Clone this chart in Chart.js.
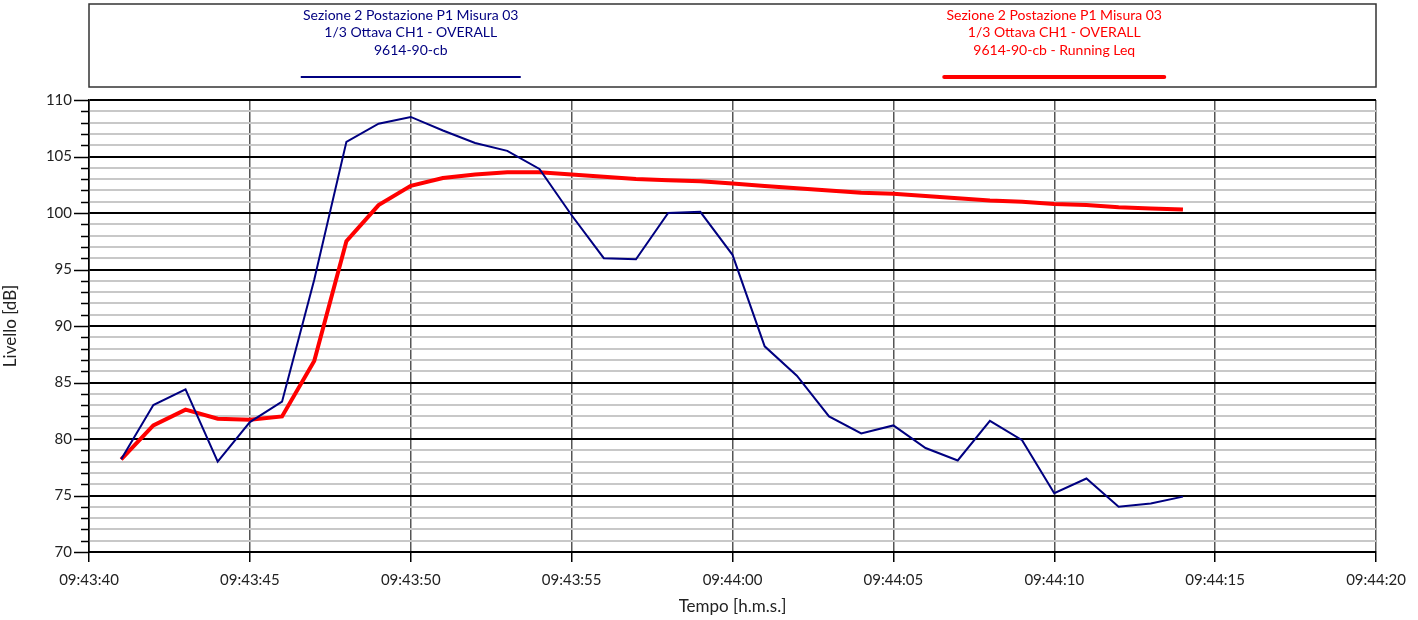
<!DOCTYPE html>
<html>
<head>
<meta charset="utf-8">
<script src="https://cdn.jsdelivr.net/npm/chart.js@4/dist/chart.umd.min.js"></script>
<style>
  html, body { margin: 0; padding: 0; background: #fff; }
  canvas { display: block; }
</style>
</head>
<body>
<canvas id="chart" width="1418" height="620"></canvas>
<script>
// sample times, one per second
const START = "09:43:40";
const times = [
  "09:43:41", "09:43:42", "09:43:43", "09:43:44", "09:43:45", "09:43:46",
  "09:43:47", "09:43:48", "09:43:49", "09:43:50", "09:43:51", "09:43:52",
  "09:43:53", "09:43:54", "09:43:55", "09:43:56", "09:43:57", "09:43:58",
  "09:43:59", "09:44:00", "09:44:01", "09:44:02", "09:44:03", "09:44:04",
  "09:44:05", "09:44:06", "09:44:07", "09:44:08", "09:44:09", "09:44:10",
  "09:44:11", "09:44:12", "09:44:13", "09:44:14",
];

// 1/3 Ottava CH1 - OVERALL [dB]
const overall = [
  78.2, 83.0, 84.4, 78.0, 81.5, 83.3, 94.1, 106.3, 107.9, 108.5, 107.3, 106.2,
  105.5, 103.9, 99.8, 96.0, 95.9, 100.0, 100.1, 96.3, 88.2, 85.6, 82.0, 80.5,
  81.2, 79.2, 78.1, 81.6, 79.9, 75.2, 76.5, 74.0, 74.3, 74.9,
];

// Running Leq [dB]
const runningLeq = [
  78.2, 81.2, 82.6, 81.8, 81.7, 82.0, 86.9, 97.5, 100.7, 102.4, 103.1, 103.4,
  103.6, 103.6, 103.4, 103.2, 103.0, 102.9, 102.8, 102.6, 102.4, 102.2, 102.0, 101.8,
  101.7, 101.5, 101.3, 101.1, 101.0, 100.8, 100.7, 100.5, 100.4, 100.3,
];

const legendTitles = [
  ["Sezione 2 Postazione P1 Misura 03", "1/3 Ottava CH1 - OVERALL", "9614-90-cb"],
  ["Sezione 2 Postazione P1 Misura 03", "1/3 Ottava CH1 - OVERALL", "9614-90-cb - Running Leq"],
];

const FONT = "Lato, 'Open Sans', sans-serif";

function toSec(t) {
  const [h, m, s] = t.split(":").map(Number);
  return h * 3600 + m * 60 + s;
}

function fromSec(sec) {
  const pad = (n) => String(n).padStart(2, "0");
  return pad(Math.floor(sec / 3600)) + ":" + pad(Math.floor(sec / 60) % 60) + ":" + pad(sec % 60);
}

const t0 = toSec(START);
const toPoints = (vals) => vals.map((v, i) => ({ x: toSec(times[i]) - t0, y: v }));

// legend box above the plot
const legendBoxPlugin = {
  id: "legendBox",
  afterDraw: (chart) => {
    const ctx = chart.ctx;
    const area = chart.chartArea;
    const w = area.right - area.left;
    ctx.save();
    ctx.strokeStyle = "#333";
    ctx.lineWidth = 1.5;
    ctx.strokeRect(area.left, 4, w, 83);

    ctx.textAlign = "center";
    ctx.textBaseline = "middle";
    ctx.font = "14px " + FONT;
    chart.data.datasets.forEach((ds, i) => {
      const cx = area.left + w * (i === 0 ? 0.25 : 0.75);
      ctx.fillStyle = ds.borderColor;
      legendTitles[i].forEach((line, j) => {
        ctx.fillText(line, cx, 15 + j * 17.5);
      });
      ctx.strokeStyle = ds.borderColor;
      ctx.lineWidth = ds.borderWidth;
      ctx.lineCap = i === 0 ? "butt" : "round";
      ctx.beginPath();
      ctx.moveTo(cx - 110, 77);
      ctx.lineTo(cx + 110, 77);
      ctx.stroke();
    });
    ctx.restore();
  },
};

// y tick marks: long on the 5 dB lines, short on the others
const yTicksPlugin = {
  id: "yTickMarks",
  afterDraw: (chart) => {
    const ctx = chart.ctx;
    const y = chart.scales.y;
    const left = chart.chartArea.left;
    ctx.save();
    ctx.strokeStyle = "#000";
    ctx.lineWidth = 1.5;
    y.ticks.forEach((t) => {
      const py = Math.round(y.getPixelForValue(t.value)) + 0.5;
      const len = t.value % 5 === 0 ? 15 : 8;
      ctx.beginPath();
      ctx.moveTo(left - len, py);
      ctx.lineTo(left, py);
      ctx.stroke();
    });
    ctx.restore();
  },
};

new Chart(document.getElementById("chart"), {
  type: "line",
  data: {
    datasets: [
      {
        label: legendTitles[0].join(" "),
        data: toPoints(overall),
        borderColor: "#000080",
        borderWidth: 2,
        pointRadius: 0,
        tension: 0,
      },
      {
        label: legendTitles[1].join(" "),
        data: toPoints(runningLeq),
        borderColor: "#ff0000",
        borderWidth: 4,
        pointRadius: 0,
        tension: 0,
      },
    ],
  },
  plugins: [legendBoxPlugin, yTicksPlugin],
  options: {
    responsive: false,
    animation: false,
    devicePixelRatio: 1,
    layout: { padding: { top: 100, right: 42, left: 0, bottom: 0 } },
    plugins: {
      legend: { display: false },
      tooltip: { enabled: false },
    },
    scales: {
      x: {
        type: "linear",
        min: 0,
        max: 40,
        afterFit: (scale) => { scale.height = 68; },
        ticks: {
          stepSize: 5,
          padding: 9,
          color: "#222",
          font: { family: FONT, size: 15 },
          maxRotation: 0,
          callback: (v) => fromSec(t0 + v),
        },
        grid: {
          color: (c) => (c.tick && c.tick.value === 0 ? "#000" : "#555"),
          lineWidth: 1.5,
          tickLength: 10,
          tickColor: "#000",
        },
        border: { display: true, color: "#000", width: 2 },
        title: {
          display: true,
          text: "Tempo [h.m.s.]",
          color: "#222",
          font: { family: FONT, size: 17 },
          padding: { top: 0, bottom: 3 },
        },
      },
      y: {
        min: 70,
        max: 110,
        afterFit: (scale) => { scale.width = 89; },
        ticks: {
          stepSize: 1,
          autoSkip: false,
          padding: 17,
          color: "#222",
          font: { family: FONT, size: 15 },
          callback: (v) => (v % 5 === 0 ? v : ""),
        },
        grid: {
          color: (c) => (c.tick && c.tick.value % 5 === 0 ? "#000" : "#c8c8c8"),
          lineWidth: 2,
          drawTicks: false,
        },
        border: { display: true, color: "#000", width: 1.5 },
        title: {
          display: true,
          text: "Livello [dB]",
          color: "#222",
          font: { family: FONT, size: 17 },
          padding: { top: 0, bottom: 8 },
        },
      },
    },
  },
});
</script>
</body>
</html>
